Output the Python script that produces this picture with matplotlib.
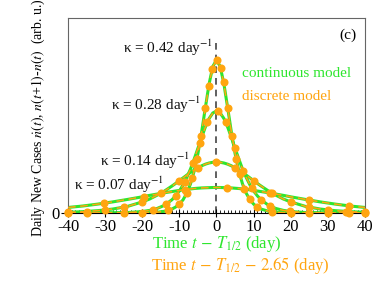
import matplotlib
matplotlib.use("Agg")
import matplotlib.pyplot as plt
from matplotlib.ticker import MultipleLocator

plt.rcParams['font.family'] = ['Liberation Serif', 'DejaVu Serif']
plt.rcParams['mathtext.fontset'] = 'stix'

GREEN = '#2ee62e'
ORANGE = '#ffa510'

# continuous model, values (arb. u.)
t_cont = [-40, -36, -32, -28, -24, -20, -18, -16, -14, -12, -11, -10, -9, -8, -7, -6,
          -5, -4, -3, -2, -1, 0, 1, 2, 3, 4, 5, 6, 7, 8, 9, 10, 11, 12, 14, 16, 18,
          20, 24, 28, 32, 36, 40]
n_042 = [0, 0, 0, 0, 0, 0.01, 0.02, 0.05, 0.12, 0.27, 0.41, 0.61, 0.91, 1.36, 2.00, 2.89,
         4.08, 5.56, 7.23, 8.85, 10.05, 10.5, 10.05, 8.85, 7.23, 5.56, 4.08, 2.89, 2.00,
         1.36, 0.91, 0.61, 0.41, 0.27, 0.12, 0.05, 0.02, 0.01, 0, 0, 0, 0, 0]
n_028 = [0, 0, 0, 0.01, 0.03, 0.10, 0.18, 0.31, 0.53, 0.91, 1.18, 1.51, 1.93, 2.44, 3.02,
         3.71, 4.44, 5.19, 5.90, 6.48, 6.86, 7.0, 6.86, 6.48, 5.90, 5.19, 4.44, 3.71,
         3.02, 2.44, 1.93, 1.51, 1.18, 0.91, 0.53, 0.31, 0.18, 0.10, 0.03, 0.01, 0, 0, 0]
n_014 = [0.05, 0.09, 0.16, 0.27, 0.45, 0.76, 0.96, 1.22, 1.51, 1.85, 2.03, 2.22, 2.41,
         2.60, 2.78, 2.95, 3.10, 3.24, 3.35, 3.43, 3.48, 3.5, 3.48, 3.43, 3.35, 3.24,
         3.10, 2.95, 2.78, 2.60, 2.41, 2.22, 2.03, 1.85, 1.51, 1.22, 0.96, 0.76, 0.45,
         0.27, 0.16, 0.09, 0.05]
n_007 = [0.38, 0.48, 0.61, 0.76, 0.93, 1.11, 1.21, 1.30, 1.39, 1.47, 1.51, 1.55, 1.59,
         1.62, 1.65, 1.68, 1.70, 1.72, 1.73, 1.74, 1.75, 1.75, 1.75, 1.74, 1.73, 1.72,
         1.70, 1.68, 1.65, 1.62, 1.59, 1.55, 1.51, 1.47, 1.39, 1.30, 1.21, 1.11, 0.93,
         0.76, 0.61, 0.48, 0.38]

# discrete model points
t_d042 = [-35, -20, -13, -10, -8, -6.5, -5.3, -4.2, -3.0, -2.1, -1.2, 0.1, 1.1, 1.9, 3.0,
          4.2, 5.3, 6.2, 7.5, 8.9, 11, 15, 20, 30, 40]
n_d042 = [0, 0.01, 0.18, 0.61, 1.36, 2.41, 3.69, 5.25, 7.23, 8.70, 9.86, 10.5, 9.96, 8.99,
          7.23, 5.25, 3.69, 2.70, 1.65, 0.95, 0.41, 0.08, 0.01, 0, 0]
t_d028 = [-40, -25, -17, -13.6, -11, -8.6, -6.4, -4.5, -2.5, 0.3, 2.5, 5.0, 7.2, 9.5, 12,
          14.5, 19.7, 25, 35.8]
n_d028 = [0, 0.03, 0.24, 0.59, 1.18, 2.12, 3.43, 4.82, 6.21, 6.99, 6.21, 4.44, 2.90, 1.71,
          0.91, 0.47, 0.11, 0.03, 0]
t_d014 = [-40, -35, -30, -25, -20, -15, -10, -5, 0, 5, 10, 15, 20, 25, 30, 35, 40]
n_d014 = [0.05, 0.10, 0.20, 0.40, 0.76, 1.36, 2.22, 3.10, 3.5, 3.10, 2.22, 1.36, 0.76,
          0.40, 0.20, 0.10, 0.05]
t_d007 = [-30.2, -19.5, -8.5, 2.7, 14.5, 25, 35.8]
n_d007 = [0.67, 1.13, 1.60, 1.73, 1.37, 0.88, 0.49]

x_ticks = [-40, -30, -20, -10, 0, 10, 20, 30, 40]
x_ticklabels = ['-40', '-30', '-20', '-10', '0', '10', '20', '30', '40']

curves = [n_042, n_028, n_014, n_007]
dots = [(t_d042, n_d042), (t_d028, n_d028), (t_d014, n_d014), (t_d007, n_d007)]

fig = plt.figure(figsize=(3.74, 2.81), dpi=100)
ax = fig.add_axes([68 / 374, 1 - 213 / 281, 297 / 374, 195 / 281])

for n in curves:
    ax.plot(t_cont, n, color=GREEN, lw=2.2, solid_capstyle='butt', zorder=2)
    ax.plot(t_cont, n, color=ORANGE, lw=1.1, dashes=(5, 3), zorder=3)
for td, nd in dots:
    ax.plot(td, nd, 'o', color=ORANGE, ms=5.8, mec='none', zorder=4, clip_on=False)

ax.axvline(0, ymax=0.90, color='#444444', lw=1.2, dashes=(4, 3), zorder=1)

ax.set_xlim(-40, 40)
ax.set_ylim(0, 13.38)
ax.set_xticks(x_ticks)
ax.set_xticklabels(x_ticklabels)
ax.xaxis.set_minor_locator(MultipleLocator(1))
ax.set_yticks([0])
ax.tick_params(axis='x', which='major', direction='inout', length=6, labelsize=12, pad=1)
ax.tick_params(axis='x', which='minor', direction='in', length=2.5)
ax.tick_params(axis='y', direction='out', length=5, labelsize=12, pad=1)
for s in ['top', 'right', 'left']:
    ax.spines[s].set_color('#666666')

kw = dict(fontsize=11, color='#111111')
ax.text(-0.8, 11.3, 'κ = 0.42 day$^{-1}$', ha='right', va='center', **kw)
ax.text(-4.2, 7.4, 'κ = 0.28 day$^{-1}$', ha='right', va='center', **kw)
ax.text(-31.3, 3.6, 'κ = 0.14 day$^{-1}$', ha='left', va='center', **kw)
ax.text(-38.3, 1.9, 'κ = 0.07 day$^{-1}$', ha='left', va='center', **kw)
ax.text(35.5, 12.2, '(c)', ha='center', va='center', fontsize=11)
ax.text(7.0, 9.6, 'continuous model', color=GREEN, fontsize=11, va='center')
ax.text(7.0, 8.0, 'discrete model', color=ORANGE, fontsize=11, va='center')

fig.text(217 / 374, 1 - 244 / 281, 'Time $t\\,-\\,T_{\\mathit{1/2}}$ (day)', color=GREEN,
         ha='center', va='center', fontsize=12)
fig.text(240 / 374, 1 - 266 / 281, 'Time $t\\,-\\,T_{\\mathit{1/2}}\\,-\\,2.65$ (day)',
         color=ORANGE, ha='center', va='center', fontsize=12)
fig.text(38 / 374, 1 - 118 / 281,
         'Daily New Cases $\\dot{n}(t)$, $n(t$+$1)$-$n(t)$  (arb. u.)',
         rotation=90, ha='center', va='center', fontsize=10)

fig.savefig('out.png', dpi=100)
